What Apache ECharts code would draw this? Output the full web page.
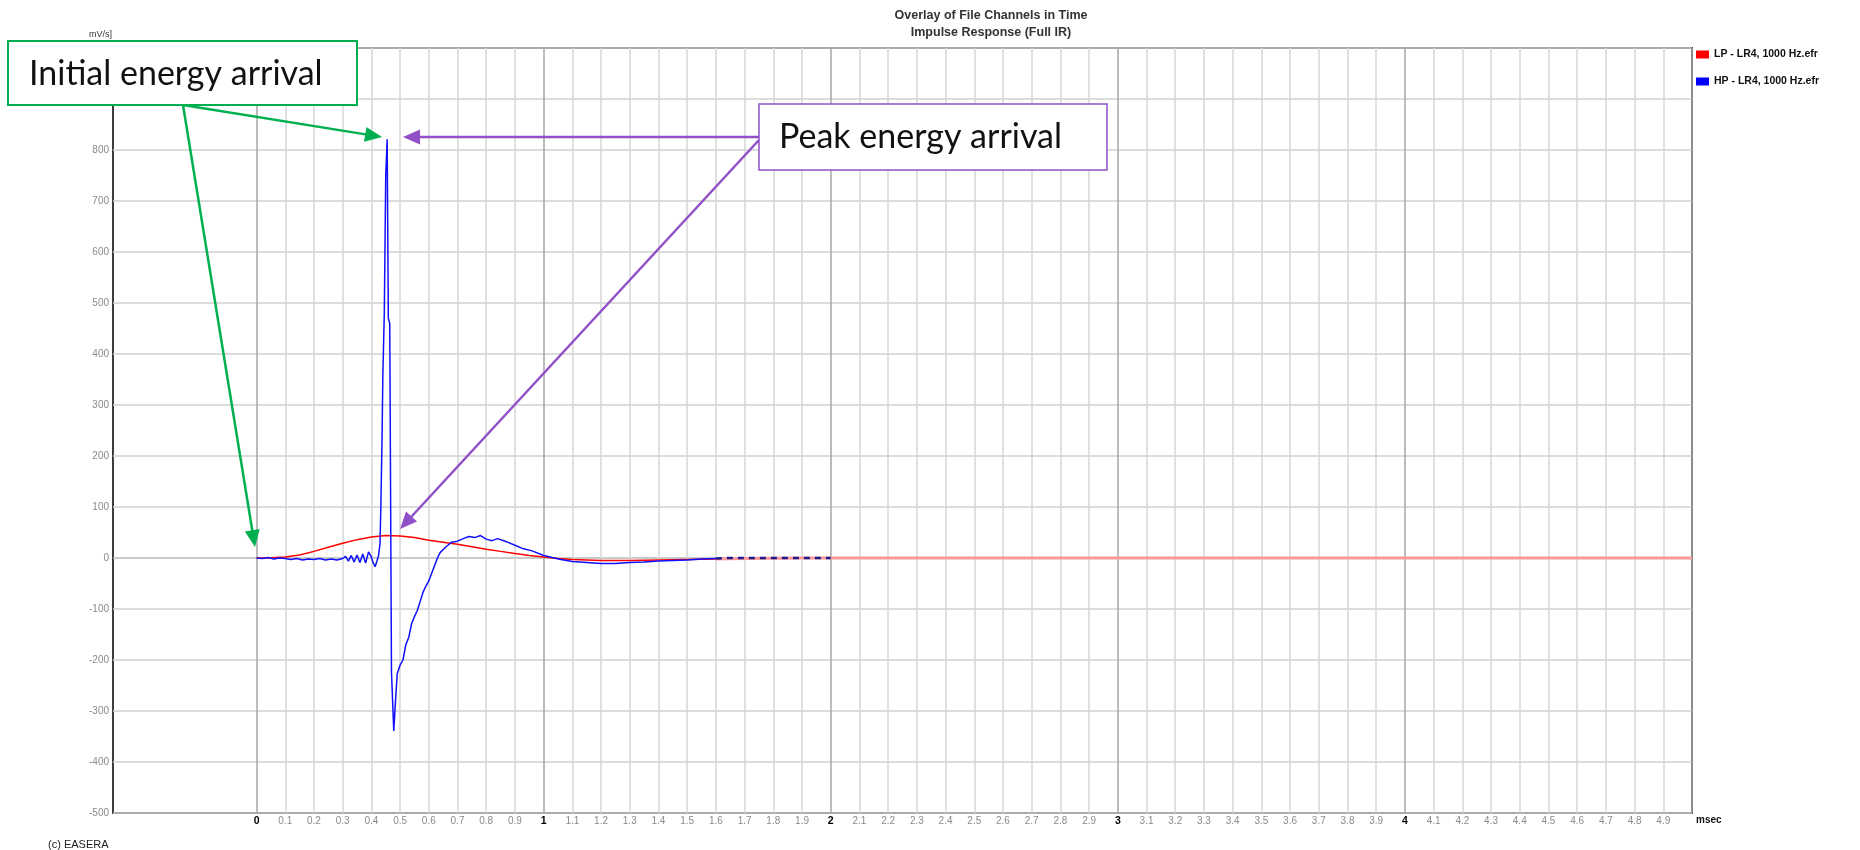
<!DOCTYPE html>
<html>
<head>
<meta charset="utf-8">
<script src="https://cdn.jsdelivr.net/npm/echarts@6/dist/echarts.min.js"></script>
<style>html,body{margin:0;padding:0;background:#fff}#c{width:1860px;height:850px}</style>
</head>
<body>
<div id="c"></div>
<script>
// ---- text ----
const titleText = 'Overlay of File Channels in Time';
const subtitleText = 'Impulse Response (Full IR)';
const seriesNames = ['LP - LR4, 1000 Hz.efr', 'HP - LR4, 1000 Hz.efr'];
const yUnit = 'mV/s]';
const xUnit = 'msec';
const footer = '(c) EASERA';
const noteInitial = 'Initial energy arrival';
const notePeak = 'Peak energy arrival';

// ---- axes ----
const xMin = -0.5, xMax = 5, xStep = 0.1;
const yMin = -500, yMax = 1000, yStep = 100;

// ---- LP (red) ----
const lpTime = [0, 0.05, 0.1, 0.15, 0.2, 0.25, 0.3, 0.35, 0.4, 0.45, 0.5, 0.55, 0.6, 0.65, 0.7, 0.75, 0.8, 0.85, 0.9, 0.95, 1.0, 1.05, 1.1, 1.15, 1.2, 1.3, 1.4, 1.5, 1.6, 1.7, 1.8, 1.9, 2.0, 2.5, 3.0, 3.5, 4.0, 4.5, 5.0];
const lpValues = [0, 0.5, 2, 6, 13, 21, 29, 36, 41, 44, 43, 40, 35, 31, 27, 22, 17, 13, 9, 5, 2, -1, -3, -4, -5, -5, -4, -3, -2, -1, -0.5, 0, 0, 0, 0, 0, 0, 0, 0];

// ---- HP (blue) ----
const hpTime = [0, 0.02, 0.04, 0.06, 0.08, 0.1, 0.12, 0.14, 0.16, 0.18, 0.2, 0.22, 0.24, 0.26, 0.28, 0.3, 0.31, 0.32, 0.33, 0.34, 0.35, 0.36, 0.37, 0.38, 0.39, 0.4, 0.405, 0.413, 0.42, 0.425, 0.43, 0.433, 0.437, 0.44, 0.445, 0.45, 0.455, 0.459, 0.464, 0.47, 0.478, 0.483, 0.49, 0.5, 0.51, 0.52, 0.53, 0.54, 0.55, 0.56, 0.57, 0.58, 0.59, 0.6, 0.61, 0.62, 0.63, 0.64, 0.66, 0.68, 0.7, 0.72, 0.74, 0.76, 0.78, 0.8, 0.82, 0.84, 0.87, 0.9, 0.93, 0.96, 1.0, 1.03, 1.06, 1.1, 1.15, 1.2, 1.25, 1.3, 1.35, 1.4, 1.45, 1.5, 1.55, 1.6, 1.65, 1.7, 1.8, 1.9, 2.0];
const hpValues = [0, -1, 1, -2, 0, -1, -3, -1, -4, -2, -3, -1, -4, -2, -4, -1, 3, -6, 5, -8, 6, -9, 8, -10, 12, 2, -8, -17, -5, 5, 28, 100, 230, 360, 480, 750, 821, 470, 460, -224, -339, -290, -227, -210, -200, -170, -156, -129, -115, -103, -85, -67, -55, -45, -30, -15, 0, 11, 22, 31, 33, 38, 42, 40, 44, 37, 34, 38, 32, 25, 18, 14, 5, 1, -3, -7, -9, -11, -11, -9, -8, -6, -5, -4, -2, -1, 0, 0, 0, 0, 0];

const tailStart = 1.6;

const pairs = (ts, vs, f) => ts.map((t, i) => [t, vs[i]]).filter(p => f(p[0]));
const lpHead = pairs(lpTime, lpValues, t => t <= tailStart);
const lpTail = pairs(lpTime, lpValues, t => t >= tailStart);
const hpHead = pairs(hpTime, hpValues, t => t <= tailStart);
const hpTail = pairs(hpTime, hpValues, t => t >= tailStart);

// vertical grid line colours: none left of 0, darker at whole msec
const xTickCount = Math.round((xMax - xMin) / xStep) + 1;
const xGridColors = [];
for (let i = 0; i < xTickCount; i++) {
  const v = Math.round((xMin + i * xStep) * 10) / 10;
  xGridColors.push(v < 0 ? 'rgba(0,0,0,0)' : (Number.isInteger(v) ? '#a6a6a6' : '#d6d6d6'));
}
const yTickCount = Math.round((yMax - yMin) / yStep) + 1;
const yGridColors = [];
for (let i = 0; i < yTickCount; i++) {
  const v = yMin + i * yStep;
  yGridColors.push(v === 0 ? '#b8b8b8' : '#d0d0d0');
}

const GREEN = '#00b050', PURPLE = '#9150c8';
function arrow(x1, y1, x2, y2, color) {
  const a = Math.atan2(y2 - y1, x2 - x1), L = 17, W = 7.5;
  const c = Math.cos(a), s = Math.sin(a);
  const bx = x2 - L * c, by = y2 - L * s;
  return [
    { type: 'line', z: 100, shape: { x1: x1, y1: y1, x2: bx + 2 * c, y2: by + 2 * s }, style: { stroke: color, lineWidth: 2.5 } },
    { type: 'polygon', z: 100, shape: { points: [[x2, y2], [bx + W * s, by - W * c], [bx - W * s, by + W * c]] }, style: { fill: color } }
  ];
}

const graphics = [].concat(
  arrow(183, 105, 382, 137, GREEN),
  arrow(183, 105, 255, 547, GREEN),
  arrow(759, 137, 403, 137, PURPLE),
  arrow(759, 140, 400, 529, PURPLE),
  [
    { type: 'rect', z: 101, shape: { x: 8, y: 41, width: 349, height: 64 }, style: { fill: '#fff', stroke: GREEN, lineWidth: 2 } },
    { type: 'text', z: 102, x: 29, y: 74, style: { text: noteInitial, font: '34px Lato', fill: '#111', verticalAlign: 'middle' } },
    { type: 'rect', z: 101, shape: { x: 759, y: 104, width: 348, height: 66 }, style: { fill: '#fff', stroke: PURPLE, lineWidth: 1.5 } },
    { type: 'text', z: 102, x: 779, y: 137, style: { text: notePeak, font: '34px Lato', fill: '#111', verticalAlign: 'middle' } },
    { type: 'text', z: 50, x: 48, y: 845, style: { text: footer, font: '11px "Liberation Sans Narrow", "Liberation Sans", sans-serif', fill: '#222', verticalAlign: 'middle' } },
    { type: 'text', z: 50, x: 112, y: 35, style: { text: yUnit, font: '9px "Liberation Sans", sans-serif', fill: '#333', align: 'right', verticalAlign: 'middle' } },
    { type: 'text', z: 50, x: 1696, y: 820, style: { text: xUnit, font: 'bold 10px "Liberation Sans", sans-serif', fill: '#111', verticalAlign: 'middle' } }
  ]
);

const chart = echarts.init(document.getElementById('c'), null, { renderer: 'canvas' });
chart.setOption({
  animation: false,
  backgroundColor: '#fff',
  title: [
    { text: titleText, left: 991, top: 9, textAlign: 'center', padding: 0,
      textStyle: { fontSize: 12.5, fontWeight: 'bold', color: '#333', fontFamily: 'Liberation Sans' } },
    { text: subtitleText, left: 991, top: 26, textAlign: 'center', padding: 0,
      textStyle: { fontSize: 12.5, fontWeight: 'bold', color: '#333', fontFamily: 'Liberation Sans' } }
  ],
  legend: {
    orient: 'vertical', left: 1696, top: 49, padding: 0, itemGap: 16,
    itemWidth: 13, itemHeight: 8, icon: 'rect',
    textStyle: { fontSize: 10.5, fontWeight: 'bold', color: '#111', fontFamily: 'Liberation Sans' },
    data: [
      { name: seriesNames[0], itemStyle: { color: '#ff0000' } },
      { name: seriesNames[1], itemStyle: { color: '#0000ff' } }
    ]
  },
  grid: { left: 113, top: 48, right: 168, bottom: 37, show: true, borderColor: '#3c3c3c', borderWidth: 2, backgroundColor: 'transparent' },
  xAxis: {
    type: 'value', min: xMin, max: xMax, interval: xStep,
    axisLine: { show: false, onZero: false }, axisTick: { show: false },
    splitLine: { show: true, lineStyle: { color: xGridColors, width: 1.5 } },
    axisLabel: {
      margin: 3,
      formatter: function (v) {
        const r = Math.round(v * 10) / 10;
        if (r < 0 || r >= xMax) return '';
        return Number.isInteger(r) ? '{b|' + r + '}' : '{n|' + r + '}';
      },
      rich: {
        n: { fontSize: 10, color: '#8a8a8a', fontFamily: '"Liberation Sans Narrow", "Liberation Sans"' },
        b: { fontSize: 10.5, color: '#000', fontWeight: 'bold', fontFamily: 'Liberation Sans' }
      }
    }
  },
  yAxis: {
    type: 'value', min: yMin, max: yMax, interval: yStep,
    axisLine: { show: false, onZero: false }, axisTick: { show: false },
    splitLine: { show: true, lineStyle: { color: yGridColors, width: 1.5 } },
    axisLabel: { margin: 4, fontSize: 10, color: '#8a8a8a', fontFamily: '"Liberation Sans Narrow", "Liberation Sans"' }
  },
  series: [
    { name: seriesNames[0], type: 'line', data: lpHead, showSymbol: false, z: 2,
      lineStyle: { color: '#ff0000', width: 1.5 }, itemStyle: { color: '#ff0000' } },
    { name: seriesNames[0], type: 'line', data: lpTail, showSymbol: false, z: 2,
      lineStyle: { color: '#ff9a9a', width: 3 }, itemStyle: { color: '#ff0000' } },
    { name: seriesNames[1], type: 'line', data: hpHead, showSymbol: false, z: 3,
      lineStyle: { color: '#1010ff', width: 1.5 }, itemStyle: { color: '#0000ff' } },
    { name: seriesNames[1], type: 'line', data: hpTail, showSymbol: false, z: 4,
      lineStyle: { color: '#1c1c8c', width: 2.5, type: [6, 5] }, itemStyle: { color: '#0000ff' } }
  ],
  graphic: graphics
});
</script>
</body>
</html>
